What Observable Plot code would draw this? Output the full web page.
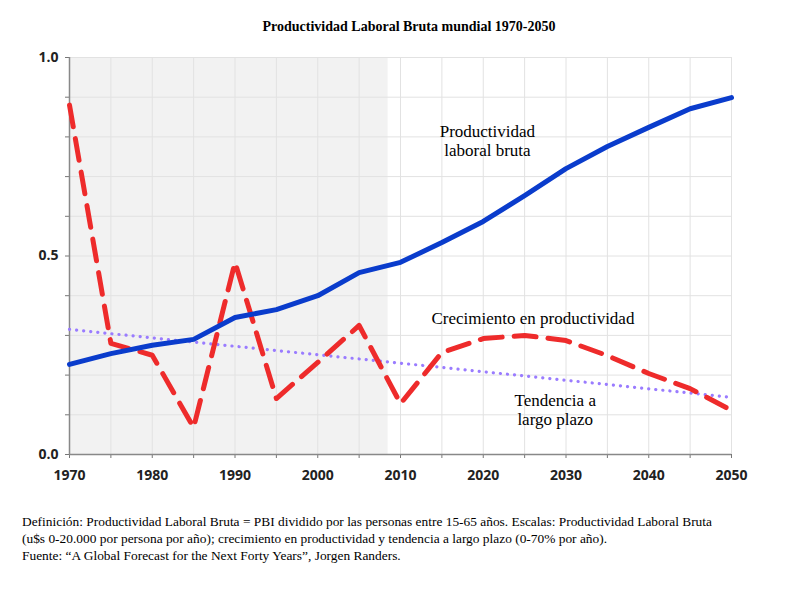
<!DOCTYPE html>
<html>
<head>
<meta charset="utf-8">
<script src="https://cdn.jsdelivr.net/npm/d3@7"></script>
<script src="https://cdn.jsdelivr.net/npm/@observablehq/plot@0.6"></script>
<style>
  body { margin: 0; background: #fff; width: 800px; height: 600px; position: relative; overflow: hidden; }
  #title { position: absolute; top: 19px; left: 0; width: 818px; text-align: center; font-family: "Liberation Serif", "Times New Roman", serif; font-weight: bold; font-size: 14px; color: #000; }
  #chart { position: absolute; top: 0; left: 0; }
  #caption { position: absolute; top: 513px; left: 22px; width: 780px; font-family: "Liberation Serif", "Times New Roman", serif; font-size: 13.4px; line-height: 17px; color: #000; }
  #chart g[aria-label="text"] text { font-family: "Liberation Serif", "Times New Roman", serif !important; }
</style>
</head>
<body>
<div id="title">Productividad Laboral Bruta mundial 1970-2050</div>
<div id="chart"></div>
<div id="caption">Definición: Productividad Laboral Bruta = PBI dividido por las personas entre 15-65 años. Escalas: Productividad Laboral Bruta<br>(u$s 0-20.000 por persona por año); crecimiento en productividad y tendencia a largo plazo (0-70% por año).<br>Fuente: “A Global Forecast for the Next Forty Years”, Jorgen Randers.</div>
<script>
const years = [1970,1975,1980,1985,1990,1995,2000,2005,2010,2015,2020,2025,2030,2035,2040,2045,2050];
const productividad = [0.227,0.254,0.275,0.290,0.345,0.365,0.400,0.458,0.484,0.534,0.587,0.652,0.720,0.776,0.824,0.871,0.899];
const crecimiento = [0.880,0.280,0.250,0.068,0.484,0.141,0.232,0.325,0.128,0.257,0.292,0.300,0.287,0.249,0.204,0.166,0.111];
const tendenciaYears = [1970,2010,2050];
const tendencia = [0.315,0.230,0.144];
const historicoStart = 1970, historicoEnd = 2008.5;
const xTicksMinor = d3.range(1970, 2051, 5);
const xTicksMajor = d3.range(1970, 2051, 10);
const yTicksMinor = [0,0.1,0.2,0.3,0.4,0.5,0.6,0.7,0.8,0.9,1.0];
const yTicksMajor = [0,0.5,1.0];

const labels = [
  {x: 2020.5, y: 0.792, text: "Productividad\nlaboral bruta"},
  {x: 2026.0, y: 0.345, text: "Crecimiento en productividad"},
  {x: 2028.7, y: 0.114, text: "Tendencia a\nlargo plazo"}
];

const prod = years.map((y,i) => ({year: y, v: productividad[i]}));
const crec = years.map((y,i) => ({year: y, v: crecimiento[i]}));
const tend = tendenciaYears.map((y,i) => ({year: y, v: tendencia[i]}));

const sans = "'Open Sans', Lato, sans-serif";
const plot = Plot.plot({
  width: 800,
  height: 500,
  marginLeft: 69,
  marginRight: 69,
  marginTop: 57,
  marginBottom: 46,
  x: {domain: [1970, 2050]},
  y: {domain: [0, 1]},
  style: {background: "transparent"},
  marks: [
    Plot.rectY([{x1: historicoStart, x2: historicoEnd}], {x1: "x1", x2: "x2", y1: 0, y2: 1, fill: "#f2f2f2"}),
    Plot.gridX(xTicksMinor, {stroke: "#e2e2e2", strokeOpacity: 1, strokeWidth: 1}),
    Plot.gridY(yTicksMinor, {stroke: "#e2e2e2", strokeOpacity: 1, strokeWidth: 1}),
    Plot.axisX(xTicksMinor, {tickSize: 4, stroke: "#777", tickFormat: () => "", label: null}),
    Plot.axisX(xTicksMajor, {tickSize: 0, tickPadding: 16, tickFormat: d => String(d), label: null,
      fontSize: 14, fontWeight: "bold", fontFamily: sans, fill: "#222"}),
    Plot.axisY(yTicksMinor, {tickSize: 4, stroke: "#777", tickFormat: () => "", label: null}),
    Plot.axisY(yTicksMajor, {tickSize: 0, tickPadding: 11, tickFormat: d => d.toFixed(1), label: null,
      fontSize: 14, fontWeight: "bold", fontFamily: sans, fill: "#222"}),
    Plot.ruleY([0], {stroke: "#888", strokeWidth: 1.5}),
    Plot.ruleX([1970], {stroke: "#888", strokeWidth: 1.5}),
    Plot.line(tend, {x: "year", y: "v", stroke: "#9a7cff", strokeWidth: 3.2, strokeDasharray: "0.1,7", strokeLinecap: "round"}),
    Plot.line(crec, {x: "year", y: "v", stroke: "#ee2b2b", strokeWidth: 5, strokeDasharray: "22,12", strokeLinejoin: "round"}),
    Plot.line(prod, {x: "year", y: "v", stroke: "#0a3ccc", strokeWidth: 5, strokeLinejoin: "round"}),
    Plot.text(labels, {x: "x", y: "y", text: "text", fontFamily: "Liberation Serif", fontSize: 17, lineHeight: 1.15, fill: "#000", textAnchor: "middle"})
  ]
});
document.getElementById("chart").appendChild(plot);
</script>
</body>
</html>
